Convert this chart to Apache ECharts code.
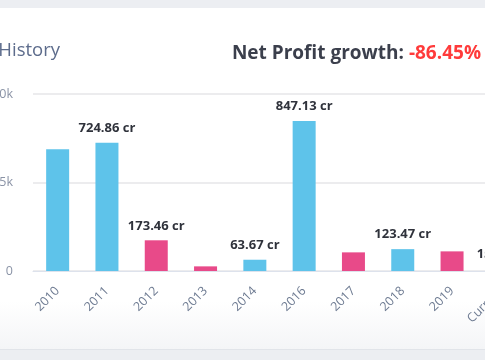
<!DOCTYPE html>
<html>
<head>
<meta charset="utf-8">
<script src="https://cdn.jsdelivr.net/npm/echarts@6/dist/echarts.min.js"></script>
<style>
  html, body { margin: 0; padding: 0; width: 485px; height: 360px; overflow: hidden; background: #eceef2; }
  #card { position: absolute; left: 0; top: 8px; width: 485px; height: 341px;
          background: linear-gradient(to bottom, #ffffff 0%, #ffffff 86%, #f4f5f7 100%);
          border-bottom: 1px solid #e1e4e9; }
  #chart { position: absolute; left: -40px; top: 0; width: 600px; height: 360px; }
</style>
</head>
<body>
<div id="card"></div>
<div id="chart"></div>
<script>
// Categories (fiscal years)
const years = ['2010', '2011', '2012', '2013', '2014', '2016', '2017', '2018', '2019', 'Current'];
// Net profit in crores (labels); axis is in millions (1 cr = 10 mn)
const profitCr = [688.0, 724.86, 173.46, 26.2, 63.67, 847.13, 105.3, 123.47, 110.9, 15.02];
// Which bars carry a visible value label in the reference
const labelShown = [false, true, true, false, true, true, false, true, false, true];
// Y axis ticks
const yTicks = [0, 5000, 10000];
const yTickLabels = ['0', '5k', '10k'];
const growthText = '-86.45%';

const BLUE = '#5ec3ea';
const PINK = '#e84a89';

const chart = echarts.init(document.getElementById('chart'), null, { renderer: 'canvas' });
const data = profitCr.map((v, i) => ({
  value: v * 10,
  itemStyle: { color: (i === 0 || v >= profitCr[i - 1]) ? BLUE : PINK },
  label: { show: labelShown[i] }
}));

chart.setOption({
  animation: false,
  textStyle: { fontFamily: 'Open Sans' },
  title: [
    {
      text: 'Net Profit History',
      right: 500, top: 41, padding: 0,
      textStyle: { fontSize: 18.5, fontWeight: 'normal', color: '#5d6c8c', fontFamily: 'Open Sans' }
    },
    {
      text: '{a|Net Profit growth: }{b|' + growthText + '}',
      right: 79, top: 44, padding: 0,
      textStyle: {
        rich: {
          a: { fontSize: 19, fontWeight: 'bold', color: '#3b3f4c', fontFamily: 'Open Sans' },
          b: { fontSize: 19, fontWeight: 'bold', color: '#ff3b3b', fontFamily: 'Open Sans' }
        }
      }
    }
  ],
  grid: { left: 73, right: 34, top: 94, bottom: 89, containLabel: false },
  xAxis: {
    type: 'category',
    data: years,
    axisLine: { lineStyle: { color: '#dde2ec', width: 1 } },
    axisTick: { show: false },
    axisLabel: { rotate: 45, margin: 18, color: '#6e7b92', fontSize: 12.5, fontFamily: 'Open Sans' }
  },
  yAxis: {
    type: 'value',
    min: 0, max: 10000, interval: 5000,
    axisLine: { show: false },
    axisTick: { show: false },
    splitLine: { lineStyle: { color: '#e6e6e9', width: 1.5 } },
    axisLabel: {
      margin: 20, color: '#8a93a6', fontSize: 12.5, fontFamily: 'Open Sans',
      formatter: v => yTickLabels[yTicks.indexOf(v)]
    }
  },
  series: [{
    type: 'bar',
    data: data,
    barWidth: 23,
    label: {
      position: 'top', distance: 8,
      color: '#2f323b', fontSize: 13, fontWeight: 'bold', fontFamily: 'Open Sans',
      formatter: p => profitCr[p.dataIndex].toFixed(2) + ' cr'
    }
  }]
});
</script>
</body>
</html>
